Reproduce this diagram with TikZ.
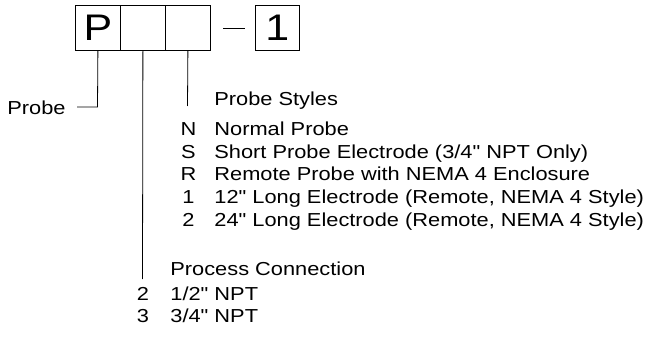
\documentclass[tikz,border=0pt]{standalone}
\usepackage{fontspec}
\setmainfont{Liberation Sans}[FakeStretch=1.16,Ligatures=TeXOff]
\begin{document}
\begin{tikzpicture}[x=1pt,y=-1pt,line width=0.8pt,
  cell/.style={draw,minimum width=45pt,minimum height=45pt,inner sep=0pt,anchor=north west,font=\fontsize{37}{40}\selectfont},
  txt/.style={anchor=base west,inner sep=0pt,font=\fontsize{18.8}{20}\selectfont},
  code/.style={anchor=base,inner sep=0pt,font=\fontsize{18.8}{20}\selectfont}]
\useasboundingbox (0,0) rectangle (648,339);
% code boxes
\node[cell] (b1) at (75,5) {P};
\node[cell] (b2) at (120,5) {};
\node[cell] (b3) at (165,5) {};
\node[cell,minimum width=44pt] (b4) at (255,5) {1};
\coordinate (d1) at (223,28);
\coordinate (d2) at (245,28);
\draw (d1) -- (d2);
% probe
\node[txt] (probe) at (7,115) {Probe};
\coordinate (pk) at (97.5,107);
\coordinate (pe) at (77,107);
\draw (b1.south) -- (pk) -- (pe);
% probe styles
\coordinate (se) at (187.5,106);
\draw (b3.south) -- (se);
\node[txt] (st) at (214,106) {Probe Styles};
\node[code] (cN) at (188.5,136) {N};
\node[txt] (tN) at (214,136) {Normal Probe};
\node[code] (cS) at (188.5,159) {S};
\node[txt] (tS) at (214,159) {Short Probe Electrode (3/4" NPT Only)};
\node[code] (cR) at (188.5,181) {R};
\node[txt] (tR) at (214,181) {Remote Probe with NEMA 4 Enclosure};
\node[code] (c1) at (188.5,204) {1};
\node[txt] (t1) at (214,204) {12" Long Electrode (Remote, NEMA 4 Style)};
\node[code] (c2) at (188.5,226) {2};
\node[txt] (t2) at (214,226) {24" Long Electrode (Remote, NEMA 4 Style)};
% process connection
\coordinate (pc) at (142.5,279);
\draw (b2.south) -- (pc);
\node[txt] (pt) at (170,276) {Process Connection};
\node[code] (p2) at (143,300) {2};
\node[txt] (q2) at (170,300) {1/2" NPT};
\node[code] (p3) at (143,322) {3};
\node[txt] (q3) at (170,322) {3/4" NPT};
\end{tikzpicture}
\end{document}
